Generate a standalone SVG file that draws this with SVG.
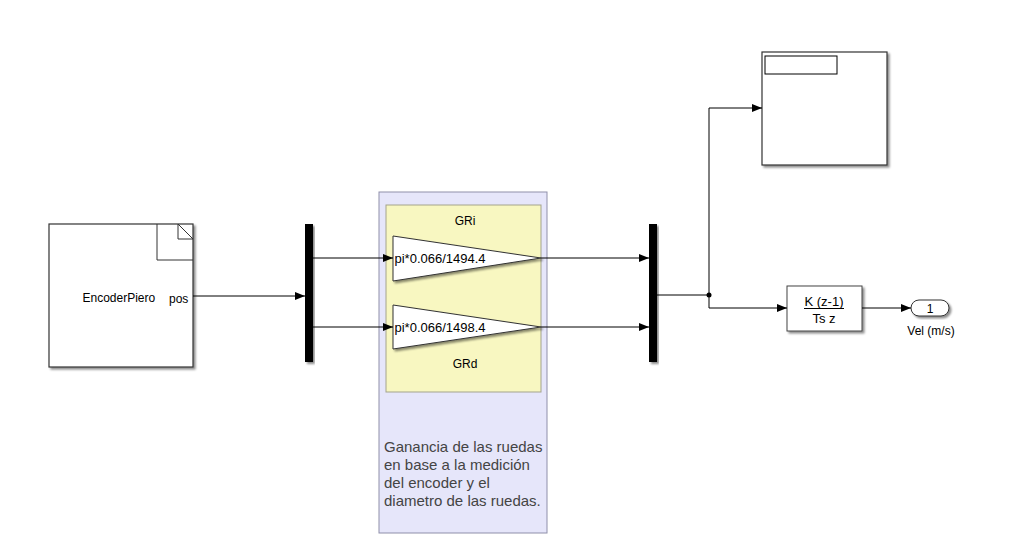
<svg xmlns="http://www.w3.org/2000/svg" width="1010" height="560" viewBox="0 0 1010 560">
<style>
text{font-family:"Liberation Sans",Arial,sans-serif;fill:#000}
.lbl{font-size:12px}
.big{font-size:13px}
.blk{fill:#fff;stroke:#333;stroke-width:1.2}
.wire{fill:none;stroke:#000;stroke-width:1}
.mux{fill:#000}
.ann{font-size:15px;fill:#444}
</style>
<defs>
<marker id="arr" viewBox="0 0 10 8" refX="10" refY="4" markerWidth="10" markerHeight="8" markerUnits="userSpaceOnUse" orient="auto">
<path d="M0,0 L10,4 L0,8 z" fill="#000"/>
</marker>
<filter id="sh" x="-10%" y="-10%" width="130%" height="130%">
<feDropShadow dx="2" dy="2" stdDeviation="1.2" flood-color="#000" flood-opacity="0.45"/>
</filter>
</defs>
<rect width="1010" height="560" fill="#fff"/>

<g id="area">
<rect x="379" y="192" width="168" height="341" fill="#e6e6fa" stroke="#8f8faa" stroke-width="1"/>
<rect x="386" y="205" width="155" height="187" fill="#f8f7c1" stroke="#a3a38c" stroke-width="1"/>
<text class="ann" x="384" y="452">Ganancia de las ruedas</text>
<text class="ann" x="384" y="470">en base a la medición</text>
<text class="ann" x="384" y="488">del encoder y el</text>
<text class="ann" x="384" y="506">diametro de las ruedas.</text>
</g>

<g id="encoder">
<rect class="blk" x="49" y="224" width="144" height="143" filter="url(#sh)"/>
<path d="M157,224 V260 H193" fill="none" stroke="#333" stroke-width="1"/>
<path d="M178,224 V239 H193" fill="none" stroke="#333" stroke-width="1"/>
<path d="M178,224 L193,239" stroke="#333" stroke-width="1"/>
<text class="lbl" x="82.5" y="302">EncoderPiero</text>
<text class="lbl" x="169" y="303">pos</text>
</g>

<g id="mux1"><rect class="mux" x="305" y="224" width="8" height="138" filter="url(#sh)"/></g>

<g id="GRi">
<path d="M393,236 L541,258 L393,281 z" fill="#fff" stroke="#333" stroke-width="1" filter="url(#sh)"/>
<text class="big" x="394.5" y="263">pi*0.066/1494.4</text>
<text class="lbl" x="465" y="225" text-anchor="middle">GRi</text>
</g>

<g id="GRd">
<path d="M393,305 L541,327 L393,349 z" fill="#fff" stroke="#333" stroke-width="1" filter="url(#sh)"/>
<text class="big" x="394.5" y="332">pi*0.066/1498.4</text>
<text class="lbl" x="465" y="368" text-anchor="middle">GRd</text>
</g>

<g id="mux2"><rect class="mux" x="649" y="224" width="8" height="138" filter="url(#sh)"/></g>

<g id="scope">
<rect class="blk" x="762" y="52" width="125" height="113" filter="url(#sh)"/>
<rect x="765" y="56" width="72" height="18" fill="#fff" stroke="#000" stroke-width="1"/>
</g>

<g id="deriv">
<rect x="787" y="286" width="75" height="45" fill="#fff" stroke="#444" stroke-width="1" filter="url(#sh)"/>
<text class="big" x="824" y="306" text-anchor="middle">K (z-1)</text>
<line x1="804" y1="308.5" x2="844" y2="308.5" stroke="#000" stroke-width="1"/>
<text class="big" x="824" y="323" text-anchor="middle">Ts z</text>
</g>

<g id="outport">
<rect x="911" y="300" width="38" height="16" rx="8" ry="8" fill="#fff" stroke="#333" stroke-width="1" filter="url(#sh)"/>
<text class="lbl" x="930" y="312.5" text-anchor="middle">1</text>
<text class="lbl" x="931" y="335" text-anchor="middle">Vel (m/s)</text>
</g>

<g id="connectors">
<path class="wire" d="M193,296 H305" marker-end="url(#arr)"/>
<path class="wire" d="M313,258 H393" marker-end="url(#arr)"/>
<path class="wire" d="M313,327 H393" marker-end="url(#arr)"/>
<path class="wire" d="M541,258 H649" marker-end="url(#arr)"/>
<path class="wire" d="M541,327 H649" marker-end="url(#arr)"/>
<path class="wire" d="M657,295 H709 V108 H762" marker-end="url(#arr)"/>
<path class="wire" d="M709,295 V308 H787" marker-end="url(#arr)"/>
<path class="wire" d="M862,308 H911" marker-end="url(#arr)"/>
<circle cx="709" cy="295" r="2.5" fill="#000"/>
</g>
</svg>
